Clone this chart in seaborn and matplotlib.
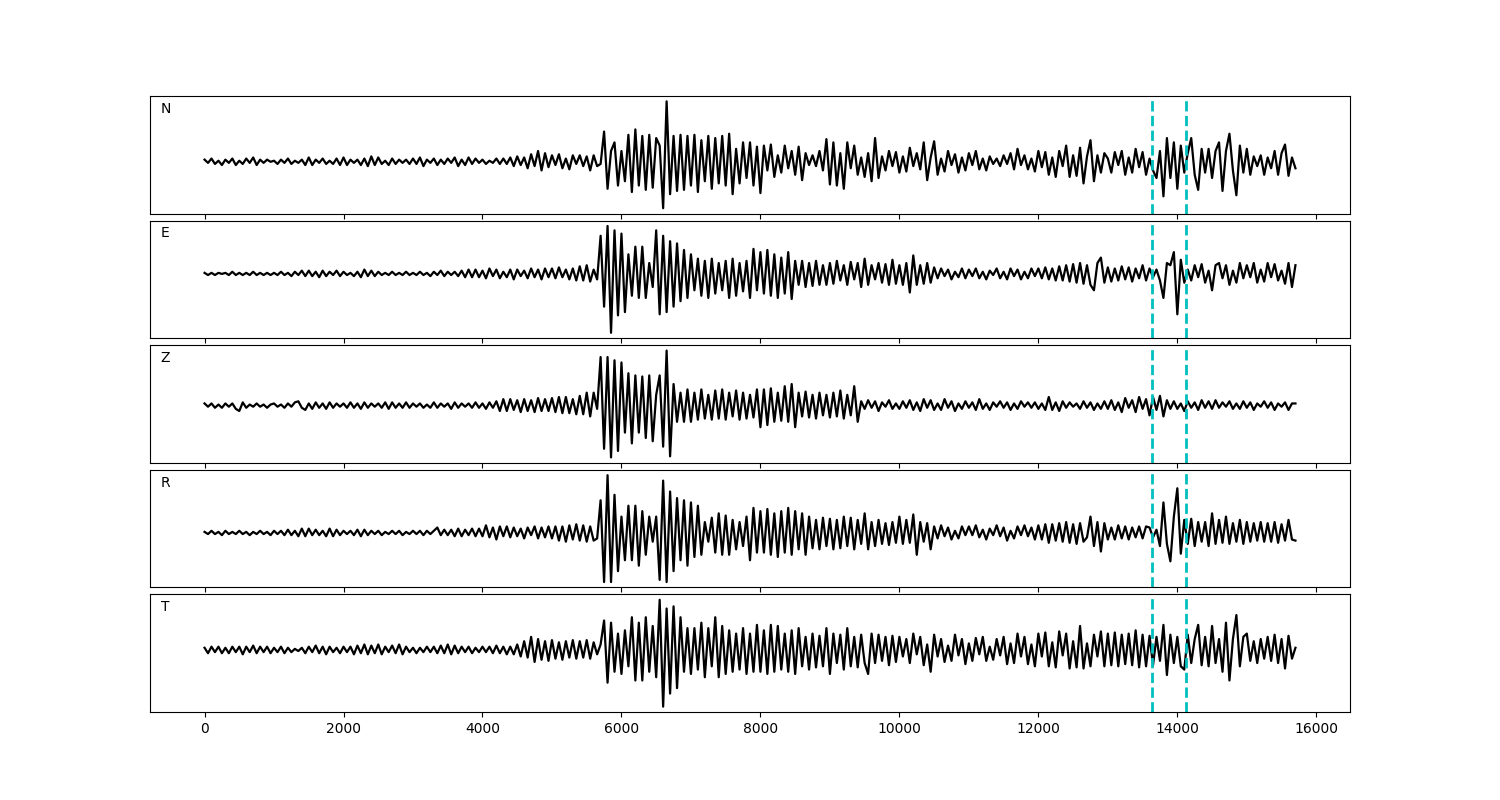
import numpy as np
import pandas as pd
import matplotlib
matplotlib.use('Agg')
import matplotlib.pyplot as plt
import seaborn as sns

dt = 50

# picked window (dashed lines)
pick_start = 13635
pick_end = 14125

components = ['N', 'E', 'Z', 'R', 'T']

trace_N = [
    2, -1, 3, -2, 1, -3, 2, -1, 3, -3, 1, -2, 3, -1, 4, -3, 2, -1, 2, 0,
    1, -2, 2, -1, 3, -2, 1, -1, 2, -3, 4, -3, 2, -1, 3, -2, 1, -2, 3, -3,
    4, -3, 2, -1, 2, -3, 3, -4, 5, -3, 4, -2, 1, -3, 3, -2, 2, -1, 2, -2,
    3, -2, 4, -4, 2, -1, 3, -3, 2, -2, 3, -1, 4, -4, 2, -3, 4, -2, 3, -1,
    2, -2, 1, -1, 3, -2, 3, -2, 4, -4, 5, -3, 4, -6, 7, -4, 10, -8, 8, -5,
    6, -3, 7, -6, 3, -7, 6, -2, 6, -4, 5, -8, 6, -4, -2, 28, -25, 10, 18, -22,
    10, -18, 25, -28, 30, -22, 24, -26, 25, -24, 22, 15, -43, 56, -30, 24, -27, 25, -26, 24,
    -22, 25, -28, 20, -18, 24, -25, 22, -20, 24, -22, 26, -30, 12, -20, 18, -15, 18, -22, 14,
    -29, 15, -8, 16, -14, 6, -10, 15, -6, 10, -12, 14, -17, 8, -3, 6, -4, 10, -8, 21,
    -21, 18, -22, 8, -25, 18, -6, 15, -12, 4, -14, 8, -18, 22, -15, 5, -8, 10, -4, 9,
    -10, 5, -9, 13, -4, 8, -7, 18, -17, 4, 19, -12, 3, -9, 10, -3, 7, -10, 4, -8,
    8, -3, 10, -7, 3, -8, 5, -2, 3, -4, 6, -2, 8, -7, 12, -3, 6, -7, 3, -9,
    10, -5, 9, -12, 4, -14, 10, -4, 15, -14, 6, -13, 13, -20, 5, 20, -18, 6, -10, 8,
    3, -10, 9, -3, 10, -12, 4, -10, 12, -5, 9, -12, 3, -8, -15, 10, -32, 22, -15, 18,
    -25, 15, -10, 8, 22, -12, -26, 12, -10, 12, -15, 10, 18, -27, 10, 26, -8, -31, 15, -10,
    12, -12, 5, -4, 6, -12, 4, -6, 10, -12, 8, 16, -13, 4, -6,
]

trace_E = [
    1, -1, 1, -1, 1, 0, 1, -1, 2, -1, 1, -1, 1, -1, 2, -1, 1, -1, 1, -1,
    1, -1, 2, -1, 1, -2, 2, -1, 3, -2, 3, -2, 2, -3, 3, -2, 2, -1, 3, -2,
    2, -1, 1, -2, 2, -3, 4, -2, 3, -2, 2, -1, 1, -1, 2, -1, 1, -1, 2, -1,
    1, -1, 2, -1, 1, -2, 2, -1, 3, -2, 2, -1, 2, -2, 3, -3, 4, -3, 4, -3,
    3, -4, 5, -2, 4, -4, 2, -3, 4, -5, 4, -2, 3, -4, 5, -3, 4, -5, 5, -3,
    5, -4, 6, -3, 4, -5, 5, -6, 7, -6, 8, -7, 4, -5, 35, -30, 44, -54, 40, -38,
    37, -35, 18, -20, 25, -22, 25, -22, 10, -12, 40, -37, 35, -35, 30, -30, 28, -25, 22, -22,
    18, -15, 14, -20, 12, -22, 14, -18, 10, -15, 12, -22, 14, -20, 10, -16, 12, -22, 23, -15,
    20, -18, 22, -20, 18, -22, 15, -18, 20, -23, 12, -10, 12, -12, 10, -11, 12, -10, 8, -10,
    10, -9, 12, -6, 8, -10, 11, -5, 10, -12, 14, -10, 8, -5, 10, -8, 9, -10, 13, -9,
    8, -10, 10, -17, 17, -10, 8, -9, 10, -8, 6, -4, 5, -2, 4, -5, 2, -3, 5, -4,
    4, -2, 5, -4, 2, -5, 3, -1, 5, -4, 2, -5, 5, -2, 4, -5, 2, -4, 5, -2,
    5, -4, 6, -5, 5, -6, 7, -6, 8, -7, 9, -8, 10, -9, 8, -10, -15, 10, 15, -8,
    6, -7, 5, -6, 7, -5, 6, -7, 5, -4, 8, -6, 5, -3, 4, -6, -22, 10, 8, 20,
    -37, 13, -8, 4, -6, 8, -3, 9, -8, 3, -15, 8, 10, -4, 8, -10, 3, -8, 10, -4,
    8, -3, 10, -8, 4, -7, 10, -3, 9, -6, 3, -9, 10, -12, 8,
]

trace_Z = [
    2, -1, 2, -2, 1, -2, 2, -1, 2, -3, -5, 3, -2, 1, -1, 2, -1, 1, -2, 1,
    2, -1, 1, -2, 2, -1, 3, 4, -2, -4, 2, -3, 3, -2, 2, -3, 3, -2, 2, -1,
    2, -2, 3, -2, 2, -3, 3, -2, 2, -1, 2, -2, 3, -3, 3, -2, 2, -2, 3, -2,
    2, -1, 2, -2, 1, -2, 3, -2, 2, -1, 2, -3, 3, -2, 2, -1, 2, -2, 3, -2,
    2, -3, 3, -2, 4, -5, 6, -5, 6, -4, 5, -6, 6, -5, 5, -6, 7, -5, 6, -5,
    7, -6, 8, -7, 8, -7, 6, -8, 9, -8, 12, -10, 12, -3, 45, -40, 45, -48, 42, -42,
    40, -25, 30, -35, 28, -25, 27, -30, 28, -33, 10, 28, -38, 51, -47, 20, -15, 12, -15, 15,
    -15, 12, -13, 15, -12, 10, -13, 14, -12, 15, -13, 12, -10, 14, -13, 12, -12, 10, -11, 15,
    -20, 15, -18, 16, -15, 12, -14, 18, -15, 20, -20, 12, -10, 13, -11, 10, -12, 12, -9, 10,
    -11, 12, -10, 14, -12, 10, -9, 18, -15, 4, -3, 5, -2, 4, -5, 3, -1, 5, -3, 2,
    -3, 4, -2, 5, -4, 3, -5, 6, -2, 5, -4, 2, -4, 6, -2, 4, -5, 2, -3, 4,
    -2, 3, -4, 6, -3, 2, -4, 3, -1, 4, -2, 3, -4, 2, -3, 4, -1, 3, -2, 3,
    -3, 2, -4, 8, -4, 3, -5, 4, -2, 3, -1, 2, -3, 4, -2, 3, -4, 2, -3, 4,
    -3, 5, -4, 3, -6, 7, -2, 5, -6, 8, -3, 6, -9, 8, -4, 9, -10, 5, -3, 4,
    -3, 2, -5, 4, -2, 3, -4, 5, -2, 4, -3, 5, -2, 3, -1, 4, -3, 2, -3, 4,
    -2, 3, -4, 2, -1, 4, -2, 3, -4, 2, -1, 3, -4, 2, 2,
]

trace_R = [
    1, -1, 2, -1, 1, -2, 2, -1, 1, -1, 2, -1, 1, -2, 1, -1, 2, -1, 1, -2,
    2, -1, 2, -2, 3, -2, 2, -3, 4, -3, 4, -2, 3, -2, 2, -3, 4, -3, 3, -2,
    2, -1, 2, -2, 3, -3, 3, -2, 2, -1, 2, -2, 1, -1, 2, -1, 2, -2, 1, -1,
    2, -1, 2, -2, 2, -1, 2, 5, -2, 3, -2, 3, -3, 4, -3, 3, -2, 4, -3, 4,
    -3, 7, -4, 5, -6, 6, -3, 6, -4, 5, -3, 4, -5, 5, -2, 6, -5, 5, -4, 6,
    -5, 6, -7, 6, -8, 7, -6, 8, -7, 7, -8, 6, -7, -5, 30, -45, 53, -45, 35, -35,
    15, -25, 25, -25, 25, -30, 20, -20, 15, -8, 15, -43, 48, -45, 38, -35, 32, -25, 30, -30,
    28, -22, 25, -20, 10, -8, 14, -18, 18, -20, 16, -20, 12, -15, 10, -12, 15, -25, 23, -18,
    20, -18, 22, -20, 18, -22, 20, -18, 23, -20, 20, -15, 18, -20, 15, -14, 12, -15, 14, -12,
    13, -15, 12, -14, 15, -12, 14, -15, 12, -10, 18, -15, 10, -12, 12, -10, 9, -11, 10, -9,
    15, -10, 12, -9, 17, -20, 10, -8, 9, -15, 6, -5, 7, -3, 5, -6, 2, -5, 6, -2,
    6, -2, 7, -4, 3, -6, 4, -2, 7, -3, 5, -7, 2, -5, 6, -2, 7, -3, 5, -6,
    7, -6, 8, -9, 8, -7, 9, -8, 10, -9, 8, -10, 9, -8, -4, 15, -12, 10, -17, 9,
    -6, 5, -6, 7, -5, 6, -6, 5, -4, 6, -5, 6, 5, -4, 3, -12, 28, -10, -26, 15,
    41, -19, 12, -10, 13, -12, 10, -8, 10, -12, 18, -10, 12, -9, 15, -10, 9, -8, 12, -10,
    10, -8, 9, -7, 10, -8, 9, -8, 10, -9, 8, -7, 12, -6, -7,
]

trace_T = [
    2, -3, 3, -2, 3, -3, 2, -3, 3, -2, 3, -4, 3, -2, 4, -3, 3, -2, 3, -3,
    2, -2, 3, -3, 2, -2, 1, -1, 2, -3, 3, -2, 4, -3, 3, -4, 3, -2, 2, -3,
    3, -2, 3, -4, 4, -3, 5, -4, 4, -3, 5, -4, 3, -2, 4, -3, 5, -4, 3, -2,
    2, -3, 2, -2, 3, -2, 3, -3, 4, -3, 5, -4, 4, -3, 3, -2, 3, -3, 2, -2,
    3, -2, 3, -3, 4, -3, 3, -4, 3, -4, 5, -6, 8, -7, 12, -11, 10, -9, 8, -10,
    9, -8, 7, -9, 8, -7, 9, -8, 8, -7, 9, -8, 7, -4, 5, 27, -30, 25, -20, 15,
    -22, 18, -15, 30, -28, 25, -28, 30, -20, 22, -25, 46, -52, 38, -40, 40, -35, 30, -20, 20,
    -22, 20, -18, 25, -25, 20, -15, 30, -25, 22, -22, 18, -20, 15, -18, 20, -22, 15, -20, 23,
    -20, 18, -22, 23, -20, 22, -18, 15, -20, 18, -22, 20, -15, 12, -18, 15, -16, 13, -15, 20,
    -22, 15, -12, 14, -18, 20, -15, 12, -16, 14, -12, -22, 15, -12, 14, -10, 12, -14, 13, -11,
    12, -6, 10, -12, 15, -4, 12, -14, 5, -20, 14, -6, 10, -11, 4, -10, 14, -5, 10, -13,
    6, -10, 11, -4, 12, -10, 3, -9, 10, -5, 12, -13, 6, -12, 15, -6, 12, -13, 5, -15,
    15, -6, 16, -15, 7, -16, 17, -5, 15, -17, 8, -16, 22, -17, 6, -15, 14, -6, 17, -15,
    15, -14, 16, -15, 14, -13, 15, -14, 18, -16, 14, -15, 13, -14, 12, -10, 23, -23, 14, -12,
    12, -15, -18, 14, -12, 10, 23, -14, 12, -15, 22, -12, 10, -20, 25, -28, 10, 32, -15, 12,
    15, -10, 8, -12, 10, -8, 12, -10, 14, -12, 10, -17, 13, -8, 2,
]

traces = [trace_N, trace_E, trace_Z, trace_R, trace_T]

fig, axes = plt.subplots(5, 1, figsize=(15, 8), dpi=100, sharex=True)
fig.subplots_adjust(left=0.1, right=0.9, top=0.88, bottom=0.11, hspace=0.06)

for ax, comp, tr in zip(axes, components, traces):
    df = pd.DataFrame({'t': np.arange(len(tr)) * dt, 'amp': tr})
    sns.lineplot(data=df, x='t', y='amp', ax=ax, color='k', lw=1.6,
                 estimator=None, sort=False)
    ax.axvline(pick_start, color='c', ls='--', lw=2)
    ax.axvline(pick_end, color='c', ls='--', lw=2)
    ax.text(0.009, 0.95, comp, transform=ax.transAxes, ha='left', va='top', fontsize=10)
    ax.set_yticks([])
    ax.set_xlabel('')
    ax.set_ylabel('')

plt.savefig('out.png')
